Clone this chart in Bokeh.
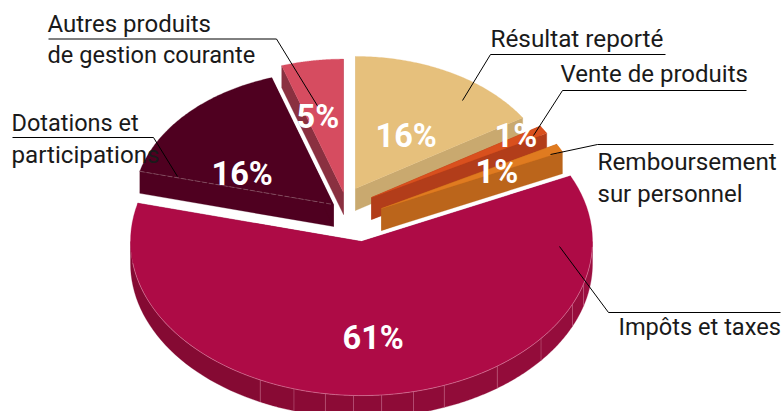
import math
from bokeh.plotting import figure
from bokeh.core.properties import value
from bokeh.embed import file_html
from bokeh.resources import INLINE

# ---- data
categories = ["Résultat reporté", "Vente de produits", "Remboursement sur personnel",
              "Impôts et taxes", "Dotations et participations",
              "Autres produits de gestion courante"]
shares = [16, 1, 1, 61, 16, 5]
share_labels = ["16%", "1%", "1%", "61%", "16%", "5%"]

# ---- style / layout
W, H = 783, 411
top_cols = ["#e6c07c", "#d9501e", "#e07b20", "#ae0b46", "#4f0020", "#d64c60"]
side_cols = ["#c9a96f", "#b23d1a", "#bb651b", "#8f0b3a", "#4f0020", "#8a3040"]
CX, CY = 361, 241
TILT = 0.667
DEPTH = 22
radii = [198, 200, 200, 231, 200, 200]
explode = [(-6, -53), (10, -44), (20, -33), (0, 0), (-28, -37), (-18, -49)]
draw_order = [3, 4, 5, 0, 1, 2]
seg_angles = [180, 244, 253, 261, 268, 275, 283, 291, 306, 321, 336, 344, 360]
seg_cols = ["#850a33", "#880a34", "#8a0a35", "#8c0b36", "#8d0b37", "#8e0b37", "#8f0b38",
            "#910c39", "#930c3a", "#950d3c", "#980e3d", "#9b0f40"]
pct_pos = [(375, 148), (494, 148), (475, 184), (342, 350), (211, 186), (296, 129)]
pct_size = [32.5, 32.5, 32.5, 32.5, 32.5, 32.5]
text_lines = [("Autres produits", 47, 32, 24), ("de gestion courante", 47, 63, 23.6),
              ("Dotations et", 11, 131, 23.5), ("participations", 11, 163, 24.2),
              ("Résultat reporté", 490, 47, 24.3), ("Vente de produits", 560, 82, 24),
              ("Remboursement", 597, 170, 24.3), ("sur personnel", 597, 202, 24),
              ("Impôts et taxes", 618, 335, 23.6)]
leaders = [([48, 276, 318], [38.5, 38.5, 107]),
           ([12, 153, 177], [137, 137, 176]),
           ([462, 490, 665], [100, 54, 54]),
           ([533, 562, 746], [135, 90, 90]),
           ([550, 597, 773], [154, 144, 144]),
           ([559, 608, 780], [246, 312, 312])]
LABEL_FONT = "Roboto"
BASELINE_FIX = 0.37

p = figure(width=W, height=H, x_range=(0, W), y_range=(H, 0), output_backend="svg",
           toolbar_location=None, x_axis_location=None, y_axis_location=None,
           min_border=0, outline_line_color=None,
           background_fill_color="white", border_fill_color="white")
p.grid.visible = False

# slice angles: clockwise from 12 o'clock, in proportion to the shares
total = sum(shares)
a = 90.0
spans = []
for s in shares:
    spans.append((a, a - 360.0 * s / total))
    a = spans[-1][1]


def pt(cx, cy, r, deg):
    t = math.radians(deg)
    return cx + r * math.cos(t), cy - r * TILT * math.sin(t)


def arc(cx, cy, r, a0, a1, n=90):
    pts = [pt(cx, cy, r, a0 + (a1 - a0) * i / n) for i in range(n + 1)]
    return [q[0] for q in pts], [q[1] for q in pts]


for i in draw_order:
    cx, cy = CX + explode[i][0], CY + explode[i][1]
    r = radii[i]
    a0, a1 = spans[i]
    # radial faces
    for ang in (a0, a1):
        ex, ey = pt(cx, cy, r, ang)
        p.patch([cx, ex, ex, cx], [cy, ey, ey + DEPTH, cy + DEPTH],
                fill_color=side_cols[i], line_color=side_cols[i], line_width=0.3)
    # outer wall of the big slice, in facets
    if shares[i] == max(shares):
        for k in range(len(seg_cols)):
            xs, ys = arc(cx, cy, r, seg_angles[k], seg_angles[k + 1], 30)
            p.patch(xs + xs[::-1], ys + [y + DEPTH for y in ys[::-1]],
                    fill_color=seg_cols[k], line_color=seg_cols[k], line_width=0.3)
        for ang in seg_angles[1:-1]:
            ex, ey = pt(cx, cy, r, ang)
            p.line([ex, ex], [ey, ey + DEPTH], line_color="#d98aa5", line_alpha=0.55,
                   line_width=0.7)
    # top face
    xs, ys = arc(cx, cy, r, a0, a1)
    p.patch([cx] + xs, [cy] + ys, fill_color=top_cols[i], line_color=top_cols[i],
            line_width=0.3)
    if shares[i] == max(shares):
        xs, ys = arc(cx, cy, r, 188, 358)
        p.line(xs, ys, line_color="#e8a0b8", line_alpha=0.7, line_width=0.7)
    if i == 4:
        ex, ey = pt(cx, cy, r, a0)
        p.line([ex, cx], [ey, cy], line_color="#8f5f70", line_width=0.7, line_dash="5 2")

for xs, ys in leaders:
    p.line(xs, ys, line_color="#000000", line_width=1)

for txt, x, y, fs in text_lines:
    p.text([x], [y], text=[txt], text_font=value(LABEL_FONT), y_offset=-BASELINE_FIX * fs,
           text_font_size=f"{fs}px", text_color="#1a1a1a",
           text_align="left", text_baseline="alphabetic")

for lab, (x, y), fs in zip(share_labels, pct_pos, pct_size):
    p.text([x], [y], text=[lab], text_font=value("Roboto"), text_font_style="bold",
           y_offset=-BASELINE_FIX * fs,
           text_font_size=f"{fs}px", text_color="#ffffff", text_align="left",
           text_baseline="alphabetic")

open("out.html", "w").write(file_html(p, INLINE))
